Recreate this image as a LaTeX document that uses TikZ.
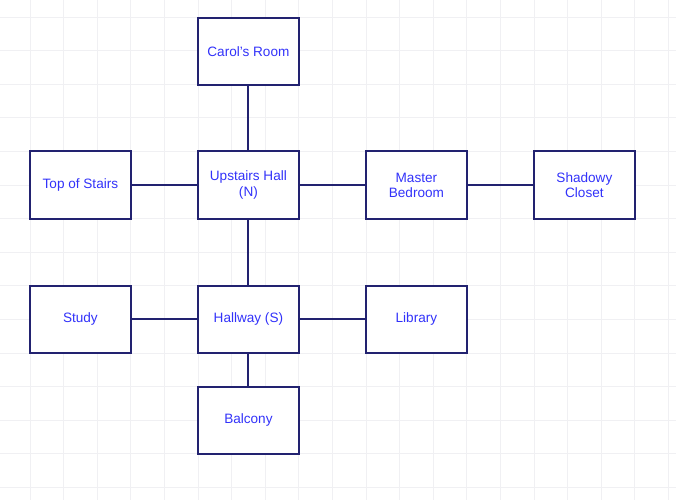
\documentclass[tikz,border=0pt]{standalone}
\usepackage{fontspec}
\setmainfont{Liberation Sans}
\definecolor{roomline}{RGB}{34,34,112}
\definecolor{roomtext}{RGB}{50,50,250}
\definecolor{gridgray}{RGB}{240,240,243}

\begin{document}
\begin{tikzpicture}[
  room/.style={draw=roomline, line width=1.7pt, fill=white, minimum width=3cm, minimum height=2cm,
    text=roomtext, align=center, font=\fontsize{11.5}{12.8}\selectfont, inner sep=0pt},
  door/.style={draw=roomline, line width=1.7pt}]
\useasboundingbox (-0.893,0.506) rectangle (19.226,-14.375); %page size
\draw[gridgray, line width=0.7pt] (-0.893,-14.375) grid (19.226,0.506); %background grid

\node[room] (carol) at (6.5,-1.02) {Carol's Room};
\node[room] (uphall) at (6.5,-5) {Upstairs Hall\\(N)};
\node[room] (topstairs) at (1.5,-5) {Top of Stairs};
\node[room] (master) at (11.5,-5) {Master\\Bedroom};
\node[room] (closet) at (16.5,-5) {Shadowy\\Closet};
\node[room] (study) at (1.5,-9) {Study};
\node[room] (hallway) at (6.5,-9) {Hallway (S)};
\node[room] (library) at (11.5,-9) {Library};
\node[room] (balcony) at (6.5,-12) {Balcony};

\draw[door] (carol) -- (uphall); %north
\draw[door] (topstairs) -- (uphall);
\draw[door] (uphall) -- (master);
\draw[door] (master) -- (closet);
\draw[door] (uphall) -- (hallway); %south
\draw[door] (study) -- (hallway);
\draw[door] (hallway) -- (library);
\draw[door] (hallway) -- (balcony);
\end{tikzpicture}
\end{document}
